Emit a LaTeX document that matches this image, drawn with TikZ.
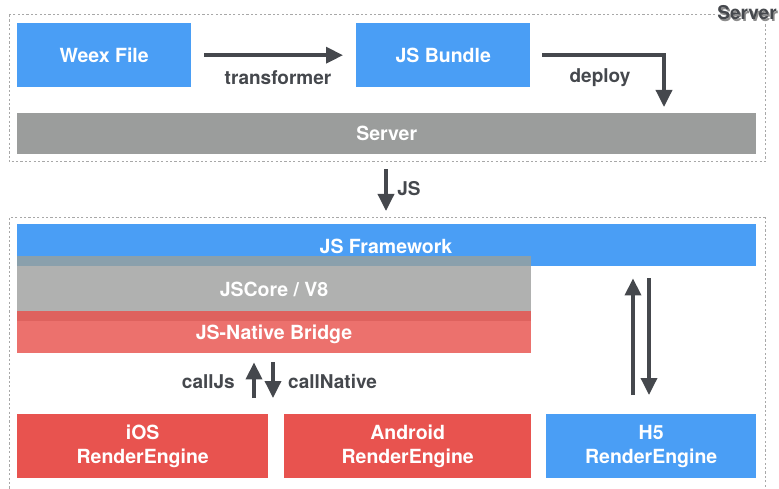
\documentclass[tikz,border=0pt]{standalone}
\usepackage{fontspec}
\setmainfont{TeX Gyre Heros}
\usetikzlibrary{arrows.meta,calc}
\definecolor{wblue}{HTML}{4A9EF5}
\definecolor{wgray}{HTML}{9B9D9C}
\definecolor{wcore}{HTML}{B0B1B0}
\definecolor{wover}{HTML}{8AA0AC}
\definecolor{wbridge}{HTML}{EC716D}
\definecolor{wbover}{HTML}{DE625E}
\definecolor{wred}{HTML}{E8534F}
\definecolor{wdark}{HTML}{45484D}
\definecolor{wdash}{HTML}{A8A8A8}
\begin{document}
\begin{tikzpicture}[x=1pt,y=-1pt,
  blk/.style={draw=none,inner sep=0pt,text=white,font=\fontsize{19.5}{24}\selectfont\bfseries,align=center,anchor=north west},
  wtxt/.style={text=white,font=\fontsize{19.5}{24}\selectfont\bfseries,inner sep=0pt,anchor=base},
  grp/.style={draw=wdash,line width=1pt,dash pattern=on 2.2pt off 2.2pt},
  arr/.style={draw=wdark,line width=3.5pt,-{Triangle[length=17pt,width=16pt]}},
  lbl/.style={text=wdark,font=\fontsize{19}{22}\selectfont\bfseries,inner sep=0pt}]
\useasboundingbox (0,0) rectangle (779,489);
% group boxes
\draw[grp] (9,15) rectangle (765,162);
\node[minimum width=756pt,minimum height=147pt,inner sep=0pt,anchor=north west] (topbox) at (9,15) {};
\draw[grp] (9,218) rectangle (765,520);
\node[minimum width=756pt,minimum height=20pt,inner sep=0pt,anchor=north west] (botbox) at (9,218) {};
% server label
\node[lbl,fill=white,inner sep=2pt,text=black!45] at (748.5,14.5) {Server};
\node[lbl,text=wdark] (srvlbl) at (747,13) {Server};
% top row
\node[blk,fill=wblue,minimum width=174pt,minimum height=64pt] (weex) at (17,23) {Weex File};
\node[blk,fill=wblue,minimum width=174pt,minimum height=64pt] (bundle) at (356,23) {JS Bundle};
\node[blk,fill=wgray,minimum width=739pt,minimum height=41pt] (server) at (17,113) {Server};
\draw[arr,shorten <=13pt,shorten >=13pt] (weex.east) -- (bundle.west);
\node[lbl] (tlab) at (278,78) {transformer};
\coordinate (dx) at (664,0);
\draw[arr,shorten >=6pt] ([xshift=12pt]bundle.east) -| (server.north -| dx);
\node[lbl] (dlab) at (600,78) {deploy};
% JS arrow
\coordinate (jx) at (386,0);
\draw[arr,shorten <=7pt,shorten >=7pt] (topbox.south -| jx) -- (botbox.north -| jx);
\node[lbl] (jslab) at (409,189) {JS};
% framework stack
\node[blk,fill=wblue,minimum width=739pt,minimum height=42pt] (fw) at (17,224) {};
\node[wtxt] at (386,254) {JS Framework};
\node[blk,fill=wcore,minimum width=514pt,minimum height=55pt] (core) at (17,256) {};
\fill[wover] (17,256) rectangle (531,266);
\node[wtxt] at (274,296) {JSCore / V8};
\node[blk,fill=wbridge,minimum width=514pt,minimum height=42pt] (bridge) at (17,311) {};
\fill[wbover] (17,311) rectangle (531,321);
\node[wtxt] at (274,339) {JS-Native Bridge};
% render engines
\node[blk,fill=wred,minimum width=251pt,minimum height=64pt] (ios) at (17,414) {iOS\\RenderEngine};
\node[blk,fill=wred,minimum width=247pt,minimum height=64pt] (android) at (284,414) {Android\\RenderEngine};
\node[blk,fill=wblue,minimum width=210pt,minimum height=64pt] (h5) at (546,414) {H5\\RenderEngine};
% callJs / callNative
\coordinate (ux) at (254,0);
\coordinate (vx) at (273,0);
\draw[arr,shorten <=16pt,shorten >=9pt] (ios.north -| ux) -- (bridge.south -| ux);
\draw[arr,shorten <=9pt,shorten >=16pt] (bridge.south -| vx) -- (ios.north -| vx);
\node[lbl,anchor=east] (cj) at (235,382) {callJs};
\node[lbl,anchor=west] (cn) at (288,382) {callNative};
% H5 arrows
\coordinate (hx) at (633,0);
\coordinate (kx) at (649,0);
\draw[arr,shorten <=19pt,shorten >=12pt] (h5.north -| hx) -- (fw.south -| hx);
\draw[arr,shorten <=12pt,shorten >=19pt] (fw.south -| kx) -- (h5.north -| kx);
\end{tikzpicture}
\end{document}
